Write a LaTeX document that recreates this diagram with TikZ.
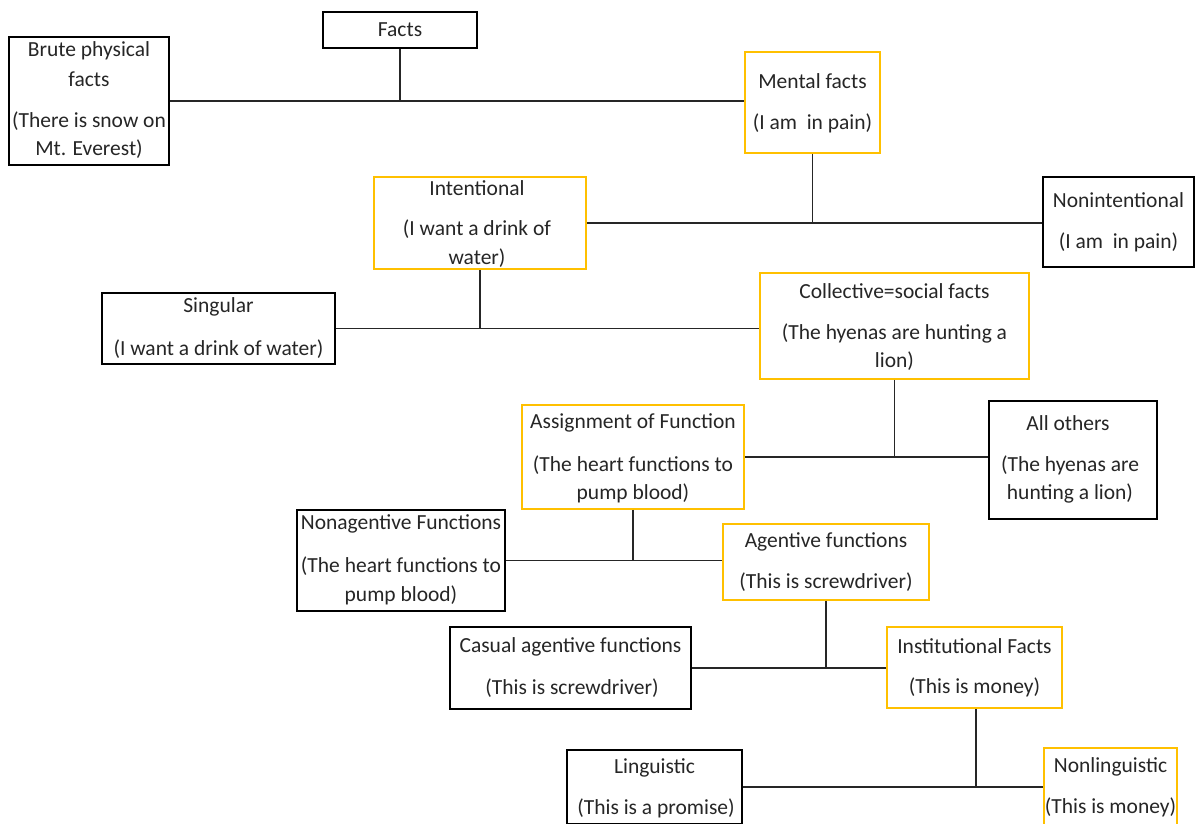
\documentclass[tikz,border=0pt]{standalone}
\usepackage{fontspec}
\setmainfont{Carlito}
\definecolor{gold}{HTML}{FFC000}
\definecolor{ink}{HTML}{262626}
\begin{document}
\begin{tikzpicture}[x=1pt,y=-1pt,
  bbox/.style={draw=black,line width=1.5pt,fill=none,inner sep=0pt,rectangle},
  obox/.style={draw=gold,line width=1.5pt,fill=none,inner sep=0pt,rectangle},
  txt/.style={font=\fontsize{21.5}{25}\selectfont,text=ink,inner sep=0pt,anchor=center},
  conn/.style={draw=black!85,line width=1.7pt}]
\useasboundingbox (0,0) rectangle (1195,823);
\clip (0,0) rectangle (1195,823);
\fill[white] (0,0) rectangle (1195,823);
% boxes: center and size
\newcommand{\bx}[5]{\node[#1,minimum width=#4pt,minimum height=#5pt] (#2) at (#3) {};}
\bx{bbox}{facts}{400,30}{154}{36}
\bx{bbox}{brute}{89,101}{160}{128}
\bx{obox}{mental}{812.5,102.5}{135}{101}
\bx{obox}{intent}{480,223}{212}{92}
\bx{bbox}{nonint}{1118.5,222}{151}{90}
\bx{bbox}{singular}{218.5,328.5}{233}{71}
\bx{obox}{collect}{894.5,326}{269}{106}
\bx{obox}{assign}{633,457}{222}{104}
\bx{bbox}{others}{1073,460}{168}{118}
\bx{bbox}{nonagent}{401,560.5}{208}{101}
\bx{obox}{agent}{826,562}{206}{76}
\bx{bbox}{casual}{570.5,668}{241}{82}
\bx{obox}{instit}{974.5,667.5}{175}{81}
\bx{bbox}{ling}{654.5,787}{175}{74}
\bx{obox}{nonling}{1110.5,787}{133}{78}
% texts
\node[txt] (t-facts) at (400,30) {Facts};
\node[txt] (t-brute1) at (89,51) {Brute physical};
\node[txt] (t-brute2) at (89,79) {facts};
\node[txt] (t-brute3) at (89,121) {(There is snow on};
\node[txt] (t-brute4) at (89,149) {Mt. Everest)};
\node[txt] (t-mental1) at (812.5,81) {Mental facts};
\node[txt] (t-mental2) at (812.5,123) {(I am\hspace{0.45em}in pain)};
\node[txt] (t-int1) at (477,188) {Intentional};
\node[txt] (t-int2) at (477,229) {(I want a drink of};
\node[txt] (t-int3) at (477,258) {water)};
\node[txt] (t-non1) at (1118.5,200) {Nonintentional};
\node[txt] (t-non2) at (1118.5,242) {(I am\hspace{0.45em}in pain)};
\node[txt] (t-sing1) at (218.5,307) {Singular};
\node[txt] (t-sing2) at (218.5,349) {(I want a drink of water)};
\node[txt] (t-col1) at (894.5,291) {Collective=social facts};
\node[txt] (t-col2) at (894.5,333) {(The hyenas are hunting a};
\node[txt] (t-col3) at (894.5,361) {lion)};
\node[txt] (t-as1) at (633,423) {Assignment of Function};
\node[txt] (t-as2) at (633,465) {(The heart functions to};
\node[txt] (t-as3) at (633,493) {pump blood)};
\node[txt] (t-oth1) at (1068,423) {All others};
\node[txt] (t-oth2) at (1070,465) {(The hyenas are};
\node[txt] (t-oth3) at (1070,493) {hunting a lion)};
\node[txt] (t-na1) at (401,524) {Nonagentive Functions};
\node[txt] (t-na2) at (401,566) {(The heart functions to};
\node[txt] (t-na3) at (401,595) {pump blood)};
\node[txt] (t-ag1) at (826,542) {Agentive functions};
\node[txt] (t-ag2) at (826,582) {(This is screwdriver)};
\node[txt] (t-ca1) at (570.5,647) {Casual agentive functions};
\node[txt] (t-ca2) at (572,688) {(This is screwdriver)};
\node[txt] (t-in1) at (974.5,646) {Institutional Facts};
\node[txt] (t-in2) at (974.5,687) {(This is money)};
\node[txt] (t-li1) at (654.5,768) {Linguistic};
\node[txt] (t-li2) at (656,808) {(This is a promise)};
\node[txt] (t-nl1) at (1110.5,767) {Nonlinguistic};
\node[txt] (t-nl2) at (1110.5,807) {(This is money)};
% connectors
\draw[conn] (brute.east) -- (brute.east -| mental.west);
\draw[conn] (facts.south) -- (facts.south |- brute.east);
\draw[conn] (intent.east) -- (intent.east -| nonint.west);
\draw[conn] (mental.south) -- (mental.south |- intent.east);
\draw[conn] (singular.east) -- (singular.east -| collect.west);
\draw[conn] (intent.south) -- (intent.south |- singular.east);
\draw[conn] (assign.east) -- (assign.east -| others.west);
\draw[conn] (collect.south) -- (collect.south |- assign.east);
\draw[conn] (nonagent.east) -- (nonagent.east -| agent.west);
\draw[conn] (assign.south) -- (assign.south |- nonagent.east);
\draw[conn] (casual.east) -- (casual.east -| instit.west);
\draw[conn] (agent.south) -- (agent.south |- casual.east);
\draw[conn] (ling.east) -- (ling.east -| nonling.west);
\draw[conn] ([xshift=1.5pt]instit.south) -- ([xshift=1.5pt]instit.south |- ling.east);
\end{tikzpicture}
\end{document}
